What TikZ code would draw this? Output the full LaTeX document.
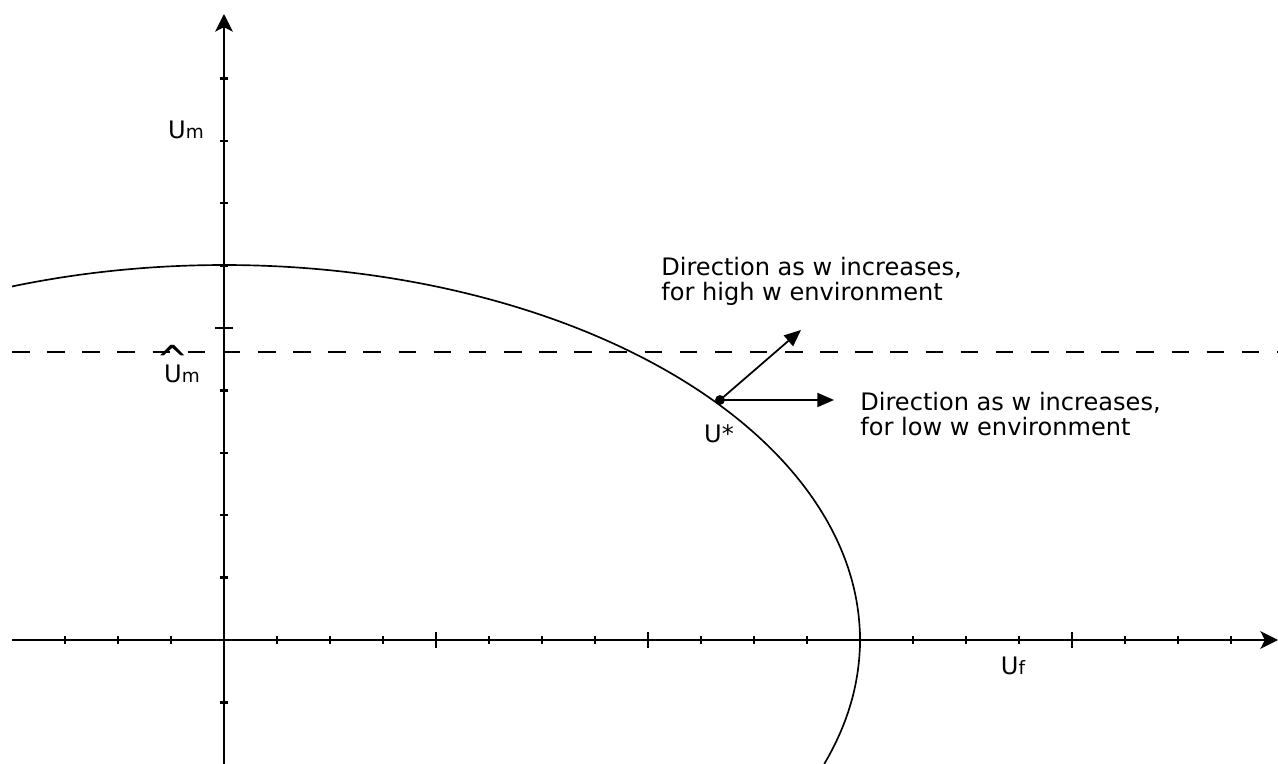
\documentclass[tikz,border=0pt]{standalone}
\usepackage{fontspec}
\setmainfont{DejaVu Sans}
\usetikzlibrary{arrows.meta}
\newcommand{\lsub}[1]{{\fontsize{10.5}{10.5}\selectfont #1}}
\newcommand{\bighat}[1]{\ooalign{#1\cr\hidewidth\smash{\raisebox{5.5pt}{\fontsize{22}{22}\selectfont\^{}}}\hidewidth\cr}}
\begin{document}
\begin{tikzpicture}[x=0.02cm, y=0.02cm, font=\fontsize{13.7}{14.2}\selectfont,
	axis/.style={line width=1.4pt, -{Stealth[length=10pt,width=10pt,inset=2.5pt]}},
	dirarrow/.style={line width=1pt, -{Triangle[length=9.5pt,width=8pt]}},
	tick/.style={line width=1.4pt}]
	\useasboundingbox (-224,-124) rectangle (1054,640);
	
	% axes
	\coordinate (O) at (0,0);
	\coordinate (xstart) at (-212,0);
	\coordinate (xend) at (1054,0);
	\coordinate (ystart) at (0,-124);
	\coordinate (yend) at (0,626);
	\draw[axis] (xstart) -- (xend);
	\draw[axis] (ystart) -- (yend);
	
	% ticks
	\foreach \i in {-3,...,19} {
		\pgfmathtruncatemacro{\r}{mod(\i+20,4)}
		\ifnum\i=0\else
			\ifnum\r=0
				\draw[tick] (53*\i,-8) -- (53*\i,8);
			\else
				\draw[tick] (53*\i,-4) -- (53*\i,4);
			\fi
		\fi
	}
	\foreach \j in {-1,1,2,3,4,6,7,8,9}
		\draw[tick] (-4,62.4*\j) -- (4,62.4*\j);
	\draw[tick] (-9,312) -- (9,312);
	
	% reference level
	\draw[dash pattern=on 10pt off 10pt, line width=0.8pt] (-212,288) -- (1054,288);
	
	% frontier
	\draw[line width=0.95pt, samples=200, domain=-19.3:109.47] plot ({636*cos(\x)}, {375*sin(\x)});
	
	% labels
	\node (um) at (-38,510) {U\lsub{m}};
	\node (umhat) at (-42,266) {\bighat{U}\lsub{m}};
	\node (uf) at (789,-26) {U\lsub{f}};
	
	% optimum and directions
	\coordinate (ustar) at (496,240);
	\coordinate (hightip) at (577,310);
	\coordinate (lowtip) at (610,240);
	\fill (ustar) circle[radius=2.8pt];
	\node (ustarlab) at (495,206) {U*};
	\draw[dirarrow] (ustar) -- (hightip);
	\draw[dirarrow] (ustar) -- (lowtip);
	\node[anchor=north west, inner sep=0pt, align=left] (high) at (437,383)
		{Direction as w increases,\\for high w environment};
	\node[anchor=north west, inner sep=0pt, align=left] (low) at (636,248)
		{Direction as w increases,\\for low w environment};
\end{tikzpicture}
\end{document}
